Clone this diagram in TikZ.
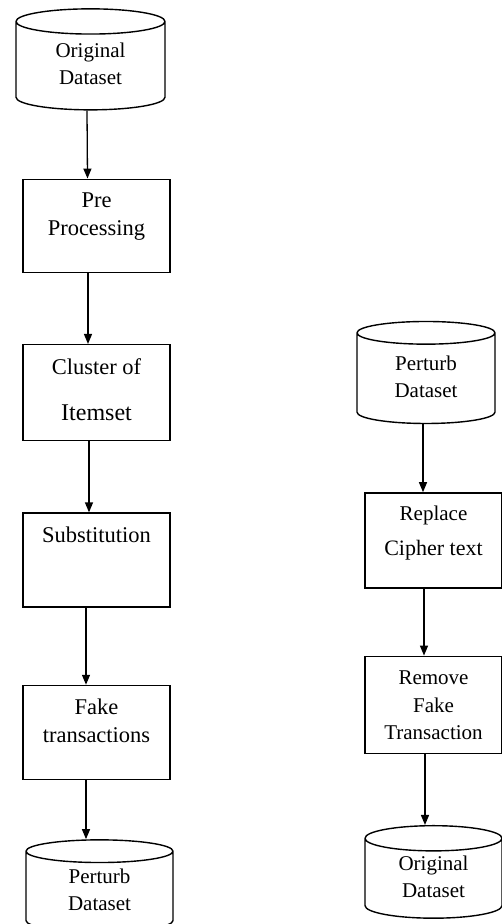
\documentclass[tikz,border=0pt]{standalone}
\usepackage{fontspec}
\setmainfont{Liberation Serif}
\usetikzlibrary{positioning, arrows.meta, shapes.geometric}
\newcommand{\toplines}[1]{\begin{tabular}[t]{@{}c@{}}#1\end{tabular}}
\newcommand{\midlines}[1]{\begin{tabular}{@{}c@{}}#1\end{tabular}}

\begin{document}
\begin{tikzpicture}[
  x=1pt, y=-1pt,
  node distance=70pt,
  every node/.style={font=\fontsize{21}{27}\selectfont},
  db/.style={draw, line width=1.4pt, cylinder, shape border rotate=90, aspect=0.36, minimum width=149pt, minimum height=100pt, inner sep=0pt},
  proc/.style={draw, line width=1.4pt, minimum width=147pt, minimum height=94pt, text height=15pt, text depth=51pt, font=\fontsize{22.5}{28}\selectfont},
  narrow/.style={minimum width=137pt, text depth=55pt, font=\fontsize{21}{27.5}\selectfont},
  arrow/.style={-{Triangle[length=10pt,width=8pt]}, line width=1.3pt},
]
\useasboundingbox (0,0) rectangle (502,924);

% Perturbation (left)
\node[db, minimum height=101pt] (ods1) at (90.5,66) {\midlines{Original\\Dataset}};
\node[proc, below=68pt of ods1, xshift=6pt, minimum height=93pt] (pre) {\toplines{Pre\\Processing}};
\node[proc, below=71pt of pre, minimum height=96pt] (clu) {\toplines{Cluster of\\[18pt]{\fontsize{24}{28}\selectfont Itemset}}};
\node[proc, below=71pt of clu] (sub) {Substitution};
\node[proc, below=77pt of sub] (fake) {\toplines{Fake\\transactions}};
\node[db, below=59pt of fake, xshift=3pt, minimum width=147pt, minimum height=92pt] (pds1) {\midlines{Perturb\\Dataset}};
\draw[arrow] ([xshift=-3.5pt]ods1.south) -- ([xshift=-9pt]pre.north);
\draw[arrow] ([xshift=-8.5pt]pre.south) -- ([xshift=-8.5pt]clu.north);
\draw[arrow] ([xshift=-7.5pt]clu.south) -- ([xshift=-7.5pt]sub.north);
\draw[arrow] ([xshift=-10.5pt]sub.south) -- ([xshift=-10.5pt]fake.north);
\draw[arrow] ([xshift=-10.5pt]fake.south) -- ([xshift=-13.5pt]pds1.north);

% Recovery (right)
\node[db, minimum width=138pt, minimum height=102pt] (pds2) at (426,378.5) {\midlines{Perturb\\Dataset}};
\node[proc, narrow, below=68pt of pds2, xshift=7.5pt, minimum height=95pt] (rep) {\toplines{Replace\\[8pt]{\fontsize{22}{27}\selectfont Cipher text}}};
\node[proc, narrow, below=67pt of rep, minimum height=97pt] (rem) {\toplines{Remove\\Fake\\Transaction}};
\node[db, below=71pt of rem, minimum width=137pt, minimum height=92pt] (ods2) {\midlines{Original\\Dataset}};
\draw[arrow] ([xshift=-3pt]pds2.south) -- ([xshift=-10.5pt]rep.north);
\draw[arrow] ([xshift=-9.5pt]rep.south) -- ([xshift=-9.5pt]rem.north);
\draw[arrow] ([xshift=-8.5pt]rem.south) -- ([xshift=-8.5pt]ods2.north);
\end{tikzpicture}
\end{document}
